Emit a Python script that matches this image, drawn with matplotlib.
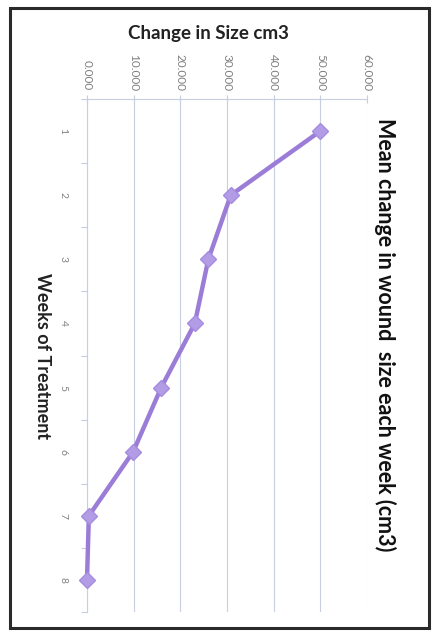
import matplotlib
matplotlib.use("Agg")
import matplotlib.pyplot as plt
from matplotlib.patches import Rectangle

weeks = [1, 2, 3, 4, 5, 6, 7, 8]
week_labels = ["1", "2", "3", "4", "5", "6", "7", "8"]
change_cm3 = [50.0, 30.8, 26.0, 23.1, 15.9, 9.9, 0.4, 0.0]
value_ticks = [0, 10, 20, 30, 40, 50, 60]

title = "Mean change in wound  size each week (cm3)"
value_title = "Change in Size cm3"
week_title = "Weeks of Treatment"

plt.rcParams["font.family"] = ["Lato", "DejaVu Sans"]

W, H = 441, 633
fig = plt.figure(figsize=(W / 100, H / 100), dpi=100)
fig.patch.set_facecolor("white")

# chart is laid out on its side: values run along the top, weeks run down
x0, x1, y0, y1 = 87, 367, 99, 612
ax = fig.add_axes([x0 / W, 1 - y1 / H, (x1 - x0) / W, (y1 - y0) / H])

grid_col = "#c6cee0"
ax.set_xlim(0, 60)
ax.set_ylim(8.5, 0.5)
ax.set_xticks(value_ticks)
ax.set_xticklabels([f"{v:.3f}" for v in value_ticks], rotation=-90,
                   fontsize=8.5, color="#808080")
ax.xaxis.tick_top()
ax.tick_params(axis="x", direction="inout", length=6, width=0.8,
               color=grid_col, pad=3)
ax.grid(axis="x", color=grid_col, lw=0.8)

ax.set_yticks(weeks)
ax.set_yticklabels(week_labels, rotation=-90, fontsize=7.5, color="#808080",
                   va="center")
ax.set_yticks([w + 0.5 for w in [0] + weeks], minor=True)
ax.tick_params(axis="y", which="major", length=0, pad=14)
ax.tick_params(axis="y", which="minor", length=4, width=0.8, color=grid_col,
               direction="out")

for side in ["right", "bottom"]:
    ax.spines[side].set_visible(False)
for side in ["top", "left"]:
    ax.spines[side].set_color(grid_col)
    ax.spines[side].set_linewidth(0.8)

ax.plot(change_cm3, weeks, color="#9b7dd8", lw=3.2, marker="D",
        markersize=8, markerfacecolor="#b39ce6", markeredgecolor="#a68ce0",
        clip_on=False, zorder=3)

fig.text(208 / W, 1 - 33 / H, value_title, ha="center", va="center",
         fontsize=13.5, fontweight="bold", color="#222222")
fig.text(42 / W, 1 - 356 / H, week_title, ha="center", va="center",
         rotation=-90, fontsize=13, fontweight="bold", color="#222222")
fig.text(385 / W, 1 - 335 / H, title, ha="center", va="center",
         rotation=-90, fontsize=15.5, fontweight="bold", color="#111111")

fig.patches.append(Rectangle((10 / W, 1 - 628 / H), 419 / W, 620 / H,
                             transform=fig.transFigure, fill=False,
                             edgecolor="#2a2a2a", lw=2.2))

fig.savefig("out.png", dpi=100)
